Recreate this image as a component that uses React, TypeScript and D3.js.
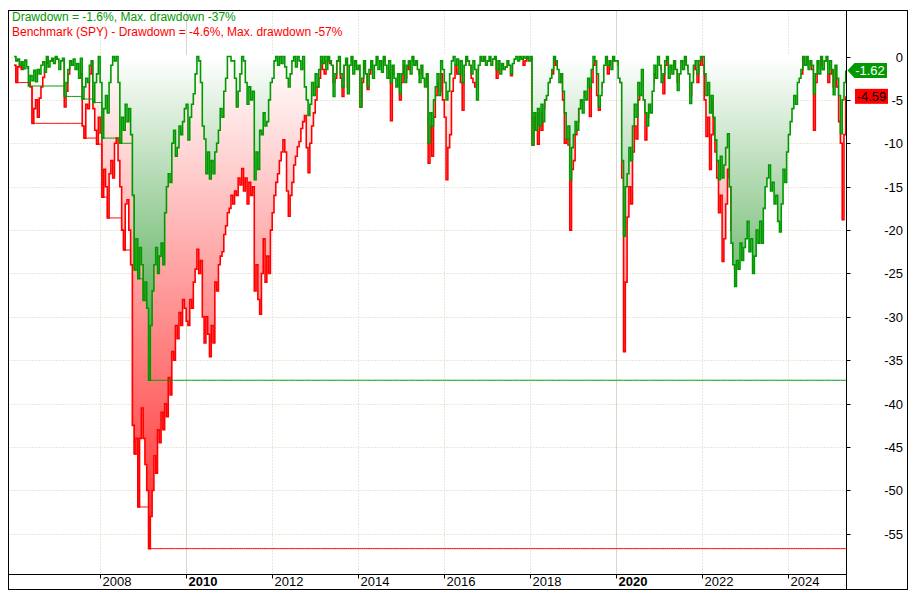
import { useEffect, useRef } from "react";
import * as d3 from "d3";

// drawdown readings in %, two per month (1st half / 2nd half), Jan 2006 .. Apr 2025
const strategy2006 = [0, -0.5, -0.3, -1.0, -0.6, -1.4, -0.4, -1.2, -3.4, -2.2, -2.8, -1.6, -2.9, -1.5, -2.0, -1.0, -0.6, -1.8, 0, -1.2, -0.5, -0.2, -0.8, 0];
const strategy2007 = [-0.3, -1.5, -0.5, -0.2, -4.6, -3.0, -1.5, -0.5, -1.0, -0.3, -1.5, -0.8, -2.5, -0.2, -4.9, -3.5, -2.5, -3.0, -1.0, -0.5, -5.3, -3.0, -2.0, 0];
const strategy2008 = [-3.0, -9.4, -6.0, -4.5, -6.5, -3.0, -1.0, 0, -0.5, 0, -3.0, -10.0, -7.0, -8.5, -5.5, -7.5, -6.0, -9.0, -16.0, -24.6, -21.0, -25.6, -22.0, -24.0];
const strategy2009 = [-28.1, -26.0, -29.0, -37.3, -31.0, -27.0, -24.0, -22.0, -25.0, -23.0, -21.5, -24.0, -18.0, -15.0, -13.5, -14.5, -10.0, -8.5, -11.5, -10.5, -8.0, -9.0, -7.5, -6.0];
const strategy2010 = [-5.5, -9.6, -7.0, -5.5, -4.3, -2.0, 0, -0.5, -3.0, -8.0, -9.5, -13.5, -11.0, -14.1, -12.0, -13.5, -11.0, -10.0, -8.5, -6.0, -7.0, -4.0, -2.5, 0];
const strategy2011 = [0, -0.5, -0.5, -2.5, -5.8, -4.0, -2.0, 0, -0.5, -3.0, -5.5, -3.5, -5.0, -4.0, -14.2, -11.0, -13.0, -8.5, -9.0, -6.5, -8.0, -7.5, -5.0, -3.0];
const strategy2012 = [-2.5, -0.5, 0, -1.0, 0, -0.8, 0, -1.2, -2.5, -3.5, -2.0, -0.5, 0, -1.2, 0, -0.5, -1.5, 0, -3.5, -5.0, -6.8, -5.5, -3.0, -4.5];
const strategy2013 = [-2.0, -3.5, -1.5, 0, -0.8, 0, -1.5, 0, -0.5, -1.0, -4.6, -2.0, -0.5, 0, -2.0, -3.5, -1.0, -0.2, -4.3, -1.0, 0, -2.0, -0.5, -1.5];
const strategy2014 = [-1.0, -5.8, -2.5, -0.5, -2.0, -3.5, -1.5, -0.5, -2.5, -1.0, 0, -1.5, -0.5, -1.8, 0, -1.0, -2.5, -0.5, -3.0, -1.0, -2.5, -3.5, -2.0, -4.3];
const strategy2015 = [-2.0, -0.5, -3.0, -1.0, -0.5, -2.0, 0, -1.0, -0.5, -1.5, -3.0, -1.0, -2.5, -3.5, -2.0, -10.0, -6.5, -8.0, -5.0, -3.5, -2.0, -4.5, -0.5, -1.5];
const strategy2016 = [-3.0, -5.0, -4.0, -2.0, -0.5, 0, -1.0, -0.3, -2.0, -0.5, -3.0, -1.0, 0, -0.5, -1.0, -2.0, -0.5, -1.5, -5.0, -1.0, 0, -0.5, 0, -1.0];
const strategy2017 = [-0.5, 0, -1.0, -0.3, 0, -1.5, -0.5, -2.0, -0.8, -1.5, -1.2, -0.5, -1.0, -2.0, -0.8, -0.3, 0, -0.5, 0, -0.3, 0, -0.2, 0, -0.5];
const strategy2018 = [0, -10.2, -6.5, -8.5, -6.0, -8.0, -5.5, -7.5, -5.0, -4.5, -3.0, -2.5, -1.5, 0, -0.5, -1.5, -3.0, -2.0, -4.0, -6.5, -9.5, -8.0, -14.2, -10.5];
const strategy2019 = [-9.0, -7.5, -8.5, -6.0, -5.0, -6.5, -4.0, -5.0, -2.5, -3.5, -1.5, 0, -0.5, -2.0, -5.8, -4.5, -3.0, -1.0, 0, -1.0, -0.5, -1.5, 0, -0.5];
const strategy2020 = [-0.5, -2.5, -3.0, -12.0, -20.7, -15.0, -13.5, -10.5, -12.0, -8.0, -5.5, -7.0, -3.0, -4.5, -1.5, -5.0, -6.5, -8.0, -5.5, -6.5, -4.0, -1.0, -2.5, 0];
const strategy2021 = [-1.0, -3.0, -2.0, -0.5, 0, -2.5, -1.0, -2.0, -0.5, -1.5, -3.9, -2.0, -0.5, -1.5, 0, -1.0, -2.0, -5.4, -3.0, -1.0, -0.5, -2.0, -0.5, 0];
const strategy2022 = [0, -2.0, -4.5, -3.0, -6.5, -4.5, -7.0, -9.6, -12.0, -14.2, -11.5, -14.0, -12.5, -10.5, -8.9, -15.0, -21.5, -24.0, -26.5, -23.5, -24.5, -21.5, -23.5, -22.0];
const strategy2023 = [-21.0, -19.0, -22.5, -21.0, -25.0, -23.0, -20.0, -21.5, -19.0, -21.5, -17.5, -15.0, -14.0, -12.5, -15.5, -14.5, -17.0, -16.0, -19.0, -20.2, -17.0, -13.0, -14.5, -11.0];
const strategy2024 = [-9.0, -7.5, -6.0, -4.5, -5.5, -3.0, -2.5, -1.5, 0, -1.0, 0, -1.5, -0.5, -1.0, -4.3, -2.0, -0.5, -2.0, 0, -1.5, -0.5, 0, -2.0, -0.5];
const strategy2025 = [-1.5, -4.4, -1.0, -2.5, -4.5, -8.9, -5.0, -3.0, -1.62];

const spy2006 = [-1.0, -3.0, -1.2, -0.8, -1.5, -0.5, -0.2, -0.6, -0.3, -3.5, -7.7, -6.0, -5.0, -7.0, -4.8, -3.5, -2.4, -1.5, -0.8, -0.2, 0, -0.5, 0, -0.3];
const spy2007 = [0, -0.5, -0.2, 0, -5.8, -4.0, -2.0, -0.5, 0, -0.3, 0, -0.5, -1.5, -2.0, -8.0, -9.4, -5.5, -6.0, -2.0, -0.5, -6.0, -8.5, -10.1, -7.0];
const spy2008 = [-8.8, -16.2, -13.0, -15.0, -18.6, -13.5, -12.0, -14.0, -10.0, -9.4, -12.0, -15.0, -20.0, -22.3, -17.0, -16.5, -20.0, -24.0, -42.5, -45.8, -44.0, -51.9, -44.0, -40.5];
const spy2009 = [-44.0, -47.0, -50.0, -56.7, -53.0, -50.0, -46.0, -48.0, -43.0, -44.5, -41.0, -43.0, -40.0, -41.5, -37.0, -39.0, -34.0, -35.0, -31.0, -32.5, -29.5, -31.0, -28.0, -29.0];
const spy2010 = [-30.5, -31.0, -28.0, -29.0, -26.0, -24.5, -22.2, -25.0, -23.5, -30.0, -33.0, -30.0, -32.0, -34.6, -31.0, -33.0, -26.0, -27.0, -24.0, -23.0, -22.5, -20.5, -19.5, -18.0];
const spy2011 = [-17.5, -16.0, -17.0, -15.5, -16.0, -14.0, -14.8, -12.9, -15.5, -14.0, -17.0, -14.5, -16.0, -15.0, -27.0, -24.0, -28.0, -29.7, -25.0, -21.0, -26.0, -23.0, -25.0, -20.0];
const spy2012 = [-18.0, -16.0, -14.5, -13.5, -12.0, -11.0, -9.6, -11.0, -15.5, -18.4, -16.0, -14.5, -12.5, -11.5, -10.4, -9.8, -8.3, -7.5, -6.8, -10.5, -13.4, -10.0, -8.0, -6.5];
const spy2013 = [-5.0, -3.5, -2.5, -0.5, -1.5, -2.0, -0.5, 0, -0.8, 0, -3.0, -2.5, 0, -0.5, -2.5, -4.6, -1.0, -0.5, -3.5, -0.5, 0, -1.0, 0, -0.5];
const spy2014 = [-1.0, -5.8, -3.0, -0.8, -1.5, -3.8, -2.0, -0.5, 0, -1.0, 0, -0.5, 0, -1.0, 0, -0.5, -1.5, -2.5, -7.4, -2.0, -0.5, -1.0, -0.5, -5.0];
const spy2015 = [-3.0, -1.0, -2.5, -0.5, -1.5, -0.5, 0, -0.8, 0, -1.0, -2.0, -0.5, -2.0, -3.0, -1.5, -12.3, -8.0, -11.5, -7.0, -4.5, -3.0, -4.0, -2.0, -5.0];
const spy2016 = [-7.0, -14.2, -10.5, -9.0, -4.0, -2.5, -1.0, -2.0, -1.5, -3.0, -6.2, -1.0, 0, -0.5, -1.0, -2.5, -3.0, -3.5, -1.5, -0.5, 0, -0.5, 0, -0.5];
const spy2017 = [0, -0.5, 0, -0.3, 0, -2.5, -0.8, -1.5, -0.5, -1.0, -1.2, -0.5, -0.8, -2.2, -0.5, 0, 0, -0.3, 0, 0, -1.0, -0.5, 0, -0.3];
const spy2018 = [0, -10.2, -7.0, -8.5, -10.1, -6.5, -8.5, -6.0, -5.0, -4.0, -3.0, -1.0, -2.0, 0, -1.0, 0, -1.5, -3.0, -5.0, -10.0, -9.5, -10.2, -20.0, -13.0];
const spy2019 = [-12.0, -9.0, -7.5, -6.0, -5.0, -4.5, -3.5, -2.5, -1.5, -6.9, -3.0, -1.0, -0.5, -4.5, -6.2, -3.5, -1.0, -0.5, 0, -2.0, -1.0, 0, -0.5, 0];
const spy2020 = [0, -1.0, -3.0, -14.0, -34.0, -26.0, -18.5, -15.0, -17.0, -11.0, -8.0, -9.5, -5.0, -3.5, -1.0, 0, -9.6, -7.0, -4.0, -5.5, -3.0, -2.0, -0.5, 0];
const spy2021 = [0, -1.5, -4.3, -1.0, 0, -1.0, 0, -1.5, 0, -1.0, -3.0, -0.5, 0, -1.0, 0, -0.5, -1.5, -4.5, -2.0, 0, -1.5, -3.0, -1.0, 0];
const spy2022 = [-1.0, -5.0, -9.2, -7.0, -13.0, -9.0, -5.0, -11.0, -14.0, -18.0, -16.0, -23.6, -21.0, -17.0, -13.0, -14.0, -20.0, -23.0, -24.5, -21.0, -16.0, -17.5, -18.0, -19.5];
const spy2023 = [-16.0, -14.0, -15.0, -12.5, -16.0, -13.0, -12.0, -13.0, -12.0, -11.5, -9.0, -7.0, -4.0, -2.5, -3.0, -5.0, -7.0, -6.0, -9.0, -10.5, -6.0, -3.5, -2.0, -0.5];
const spy2024 = [-1.0, 0, -1.0, 0, -0.5, -2.0, -2.0, -2.0, 0, -0.5, 0, -1.0, 0, -1.5, -8.5, -3.0, 0, -1.0, 0, -1.5, 0, -0.5, -3.0, -2.0];
const spy2025 = [-1.0, -3.5, -0.5, -3.5, -7.5, -10.0, -18.8, -9.0, -4.59];

const strategyDD = [
  ...strategy2006, ...strategy2007, ...strategy2008, ...strategy2009, ...strategy2010,
  ...strategy2011, ...strategy2012, ...strategy2013, ...strategy2014, ...strategy2015,
  ...strategy2016, ...strategy2017, ...strategy2018, ...strategy2019, ...strategy2020,
  ...strategy2021, ...strategy2022, ...strategy2023, ...strategy2024, ...strategy2025,
];
const benchmarkDD = [
  ...spy2006, ...spy2007, ...spy2008, ...spy2009, ...spy2010,
  ...spy2011, ...spy2012, ...spy2013, ...spy2014, ...spy2015,
  ...spy2016, ...spy2017, ...spy2018, ...spy2019, ...spy2020,
  ...spy2021, ...spy2022, ...spy2023, ...spy2024, ...spy2025,
];

const START_YEAR = 2006;
const PER_YEAR = 24;
const yTicks = [0, -5, -10, -15, -20, -25, -30, -35, -40, -45, -50, -55];
const xTicks = [2008, 2010, 2012, 2014, 2016, 2018, 2020, 2022, 2024];
const boldYears = [2010, 2020];

const W = 915;
const H = 593;
const FONT = "'Liberation Sans', Arial, sans-serif";
const GREEN = "#009900";
const RED = "#ff0000";
const GRID = "#d4d0b4";

type Pt = { t: number; v: number };

export default function App() {
  const svgRef = useRef<SVGSVGElement>(null);

  useEffect(() => {
    if (!svgRef.current) return;
    const svg = d3.select(svgRef.current);
    svg.selectAll("*").remove();

    const left = 8.5,
      top = 10.5,
      plotRight = 846.5,
      plotBottom = 574.5,
      right = 907.5,
      bottom = 589.5;

    const x = d3.scaleLinear().domain([2005.87, 2025.35]).range([left, plotRight]);
    const y = d3.scaleLinear().domain([5.3, -59.68]).range([top, plotBottom]);

    const toPts = (arr: number[]): Pt[] =>
      arr.map((v, i) => ({ t: START_YEAR + i / PER_YEAR, v }));
    const runMin = (arr: number[]) => {
      let m = 0;
      return arr.map((v) => (m = Math.min(m, v)));
    };

    const strat = toPts(strategyDD);
    const bench = toPts(benchmarkDD);
    const stratMax = toPts(runMin(strategyDD));
    const benchMax = toPts(runMin(benchmarkDD));

    svg.append("rect").attr("width", W).attr("height", H).attr("fill", "#fff");

    const defs = svg.append("defs");
    defs
      .append("clipPath")
      .attr("id", "plotClip")
      .append("rect")
      .attr("x", left + 0.5)
      .attr("y", top + 0.5)
      .attr("width", plotRight - left - 1)
      .attr("height", plotBottom - top - 1);

    const grad = (id: string, end: number, c0: string, c1: string) => {
      const g = defs
        .append("linearGradient")
        .attr("id", id)
        .attr("gradientUnits", "userSpaceOnUse")
        .attr("x1", 0)
        .attr("x2", 0)
        .attr("y1", y(0))
        .attr("y2", y(end));
      g.append("stop").attr("offset", "0%").attr("stop-color", c0);
      g.append("stop").attr("offset", "100%").attr("stop-color", c1);
    };
    grad("greenFill", -40, "#ffffff", "rgb(40,150,40)");
    grad("redFill", -60, "#ffffff", "rgb(255,30,30)");

    // grid
    const grid = svg.append("g");
    yTicks.forEach((v) => {
      const yy = Math.round(y(v)) + 0.5;
      grid
        .append("line")
        .attr("x1", left)
        .attr("x2", plotRight)
        .attr("y1", yy)
        .attr("y2", yy)
        .attr("stroke", GRID)
        .attr("stroke-dasharray", "1,2");
    });
    xTicks.forEach((yr) => {
      const xx = Math.round(x(yr)) + 0.5;
      const major = boldYears.includes(yr);
      grid
        .append("line")
        .attr("x1", xx)
        .attr("x2", xx)
        .attr("y1", top)
        .attr("y2", plotBottom)
        .attr("stroke", major ? "#d8d8c8" : GRID)
        .attr("stroke-dasharray", major ? null : "1,2");
    });

    const plot = svg.append("g").attr("clip-path", "url(#plotClip)");

    const area = (top0: number) =>
      d3
        .area<Pt>()
        .curve(d3.curveStepAfter)
        .x((d) => x(d.t))
        .y0(top0)
        .y1((d) => y(d.v));
    const line = d3
      .line<Pt>()
      .curve(d3.curveStepAfter)
      .x((d) => x(d.t))
      .y((d) => y(d.v));

    plot.append("path").datum(bench).attr("d", area(y(0))).attr("fill", "url(#redFill)");
    plot
      .append("path")
      .datum(bench)
      .attr("d", line)
      .attr("fill", "none")
      .attr("stroke", RED)
      .attr("stroke-width", 1.6);
    // green area starts a hair above zero so it hides the benchmark where both sit near 0
    plot
      .append("path")
      .datum(strat)
      .attr("d", area(y(0) - 1.5))
      .attr("fill", "url(#greenFill)");
    plot
      .append("path")
      .datum(strat)
      .attr("d", line)
      .attr("fill", "none")
      .attr("stroke", GREEN)
      .attr("stroke-width", 1.6);

    plot
      .append("path")
      .datum(benchMax)
      .attr("d", line)
      .attr("fill", "none")
      .attr("stroke", RED)
      .attr("stroke-width", 1);
    plot
      .append("path")
      .datum(stratMax)
      .attr("d", line)
      .attr("fill", "none")
      .attr("stroke", GREEN)
      .attr("stroke-width", 1);

    // frame
    const frame = svg.append("g").attr("stroke", "#000").attr("fill", "none");
    frame
      .append("rect")
      .attr("x", left)
      .attr("y", top)
      .attr("width", right - left)
      .attr("height", bottom - top);
    frame
      .append("line")
      .attr("x1", plotRight)
      .attr("x2", plotRight)
      .attr("y1", top)
      .attr("y2", bottom);
    frame
      .append("line")
      .attr("x1", left)
      .attr("x2", plotRight)
      .attr("y1", plotBottom)
      .attr("y2", plotBottom);

    // right axis
    yTicks.forEach((v) => {
      const yy = Math.round(y(v)) + 0.5;
      svg
        .append("line")
        .attr("x1", plotRight)
        .attr("x2", plotRight + 4)
        .attr("y1", yy)
        .attr("y2", yy)
        .attr("stroke", "#000");
      svg
        .append("text")
        .attr("x", 903)
        .attr("y", yy + 4.5)
        .attr("text-anchor", "end")
        .attr("font-family", FONT)
        .attr("font-size", 13)
        .attr("fill", "#000")
        .text(String(v));
    });

    // bottom axis
    xTicks.forEach((yr) => {
      const xx = Math.round(x(yr)) + 0.5;
      svg
        .append("line")
        .attr("x1", xx)
        .attr("x2", xx)
        .attr("y1", plotBottom)
        .attr("y2", plotBottom + 4)
        .attr("stroke", "#000");
      svg
        .append("text")
        .attr("x", xx + 2)
        .attr("y", 586)
        .attr("font-family", FONT)
        .attr("font-size", 13)
        .attr("font-weight", boldYears.includes(yr) ? "bold" : "normal")
        .attr("fill", "#000")
        .text(String(yr));
    });

    // last value markers
    const lastS = strategyDD[strategyDD.length - 1];
    const lastB = benchmarkDD[benchmarkDD.length - 1];
    const ys = y(lastS);
    svg
      .append("path")
      .attr(
        "d",
        `M${plotRight + 1},${ys} L${plotRight + 8},${ys - 7.5} L887,${ys - 7.5} L887,${ys + 7.5} L${plotRight + 8},${ys + 7.5} Z`
      )
      .attr("fill", GREEN);
    svg
      .append("text")
      .attr("x", 870)
      .attr("y", ys + 4.5)
      .attr("text-anchor", "middle")
      .attr("font-family", FONT)
      .attr("font-size", 13)
      .attr("fill", "#fff")
      .text(lastS.toFixed(2));
    const yb = y(lastB);
    svg
      .append("rect")
      .attr("x", 855)
      .attr("y", yb - 7.5)
      .attr("width", 33)
      .attr("height", 15)
      .attr("fill", RED);
    svg
      .append("text")
      .attr("x", 871.5)
      .attr("y", yb + 4.5)
      .attr("text-anchor", "middle")
      .attr("font-family", FONT)
      .attr("font-size", 13)
      .attr("fill", "#000")
      .text(lastB.toFixed(2));

    // title lines
    const maxS = d3.min(strategyDD) ?? 0;
    const maxB = d3.min(benchmarkDD) ?? 0;
    svg
      .append("text")
      .attr("x", 12)
      .attr("y", 21)
      .attr("font-family", FONT)
      .attr("font-size", 12)
      .attr("fill", GREEN)
      .text(`Drawdown = ${lastS.toFixed(1)}%, Max. drawdown ${Math.round(maxS)}%`);
    svg
      .append("text")
      .attr("x", 12)
      .attr("y", 36)
      .attr("font-family", FONT)
      .attr("font-size", 12)
      .attr("fill", RED)
      .text(
        `Benchmark (SPY) - Drawdown = ${lastB.toFixed(1)}%, Max. drawdown ${Math.round(maxB)}%`
      );
  }, []);

  return (
    <svg
      ref={svgRef}
      width={W}
      height={H}
      style={{ position: "absolute", left: 0, top: 0 }}
    />
  );
}
